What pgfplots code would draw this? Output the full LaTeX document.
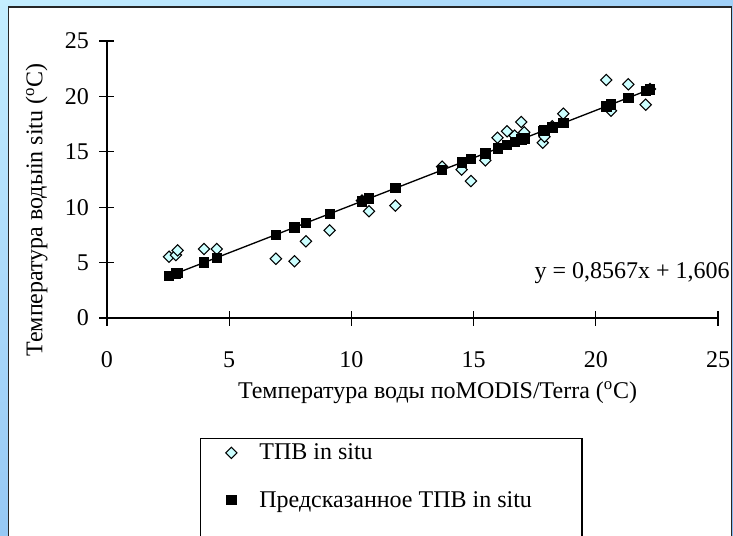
\documentclass[border=0pt]{standalone}
\usepackage{pgfplots}
\pgfplotsset{compat=1.18}
\usetikzlibrary{shadings}
\usepackage{fontspec}
\setmainfont{Liberation Serif}

\definecolor{insitu}{RGB}{204,255,255}
\definecolor{bgA}{RGB}{196,238,255}
\definecolor{bgB}{RGB}{160,208,248}
\definecolor{bgC}{RGB}{150,200,245}
\definecolor{bgD}{RGB}{135,185,240}

\newcommand{\chartfont}{\fontsize{18}{21}\selectfont}

\begin{document}
\begin{tikzpicture}[x=0.75pt,y=-0.75pt]
  \useasboundingbox (0,0) rectangle (733,536);
  \shade[upper left=bgA, upper right=bgB, lower left=bgC, lower right=bgD] (0,0) rectangle (733,536);
  \filldraw[fill=white, draw=black!85, line width=1pt] (8.5,7) rectangle (731.5,560);

  \begin{axis}[
      at={(80.25pt,-238.5pt)}, anchor=south west,
      scale only axis, width=458.25pt, height=207.75pt,
      xmin=0, xmax=25, ymin=0, ymax=25,
      xtick={0,5,...,25}, ytick={0,5,...,25},
      axis x line=bottom, axis y line=left,
      axis line style={-, line width=0.8pt},
      tick align=center, major tick length=11.25pt,
      tick style={black, line width=0.8pt},
      ticklabel style={font=\chartfont},
      xticklabel style={yshift=-16pt},
      yticklabel style={xshift=-4.5pt},
      /pgf/number format/assume math mode=true,
      xlabel={Температура воды поMODIS/Terra (\textsuperscript{o}C)},
      ylabel={Температура водыin situ (\textsuperscript{o}C)},
      label style={font=\chartfont},
      xlabel style={at={(rel axis cs:0.541,-0.29)}, anchor=base},
      ylabel style={at={(rel axis cs:-0.115,0.39)}, anchor=center},
      clip=false,
      legend style={at={(rel axis cs:0.1522,-0.4332)}, anchor=north west,
        draw=black, line width=0.9pt, font=\chartfont, row sep=18pt,
        inner xsep=14pt, column sep=10pt},
      legend cell align=left,
    ]
    % measured in situ temperature
    \addplot[only marks, mark=square*, mark size=3pt,
      mark options={rotate=45, fill=insitu, draw=black, line width=0.8pt}] coordinates {
      (2.54,5.53) (2.82,5.68) (2.89,6.11) (3.97,6.23) (4.49,6.23)
      (6.91,5.35) (7.67,5.12) (8.14,6.92) (9.11,7.91) (10.43,10.60)
      (10.72,9.63) (11.80,10.14) (13.71,13.66) (14.51,13.39) (14.89,12.36)
      (15.48,14.23) (15.98,16.27) (16.37,16.85) (16.68,16.46) (16.95,17.69)
      (17.07,16.76) (17.83,15.82) (17.90,16.36) (18.22,17.30) (18.67,18.44)
      (20.43,21.48) (20.62,18.71) (21.33,21.09) (22.04,19.25) (22.22,20.67)
    };
    \addlegendentry{ТПВ in situ}
    % predicted in situ temperature
    \addplot[only marks, mark=square*, mark size=3.5pt,
      mark options={fill=black, draw=black, line width=0.5pt}] coordinates {
      (2.54,3.78) (2.82,4.02) (2.89,4.08) (3.97,5.01) (4.49,5.45)
      (6.91,7.53) (7.67,8.18) (8.14,8.58) (9.11,9.41) (10.43,10.54)
      (10.72,10.79) (11.80,11.72) (13.71,13.35) (14.51,14.04) (14.89,14.36)
      (15.48,14.87) (15.98,15.30) (16.37,15.63) (16.68,15.90) (16.95,16.13)
      (17.07,16.23) (17.83,16.88) (17.90,16.94) (18.22,17.22) (18.67,17.60)
      (20.43,19.11) (20.62,19.27) (21.33,19.88) (22.04,20.49) (22.22,20.64)
    };
    \addlegendentry{\makebox[226pt][l]{Предсказанное ТПВ in situ}}
    % linear trend
    \addplot[black, line width=1pt] coordinates {(2.54,3.78) (22.22,20.64)};
    \addlegendentry{}
  \end{axis}

  \node[anchor=base east, font=\chartfont, inner sep=0pt] at (730,278) {y = 0,8567x + 1,606};
\end{tikzpicture}
\end{document}
